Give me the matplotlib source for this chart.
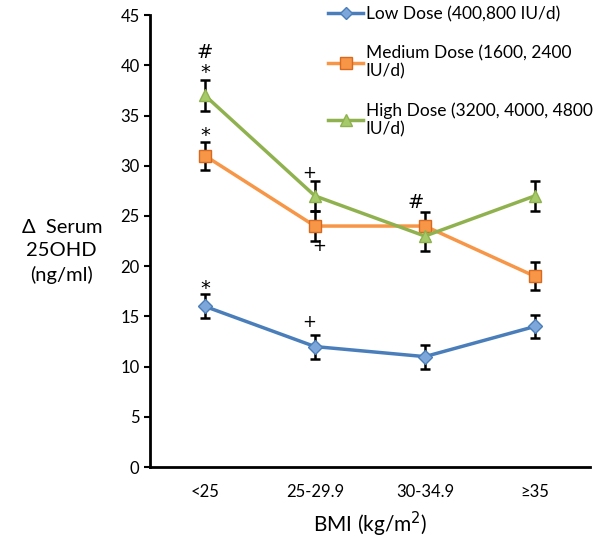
import numpy as np
import matplotlib
matplotlib.use("Agg")
import matplotlib.pyplot as plt
from matplotlib.lines import Line2D

plt.rcParams['font.family'] = ['Lato', 'DejaVu Sans']

categories = ['<25', '25-29.9', '30-34.9', '\u226535']
low = [16, 12, 11, 14]
low_err = [1.2, 1.2, 1.2, 1.15]
medium = [31, 24, 24, 19]
medium_err = [1.4, 1.5, 1.4, 1.4]
high = [37, 27, 23, 27]
high_err = [1.5, 1.5, 1.5, 1.5]
labels = ['Low Dose (400,800 IU/d)', 'Medium Dose (1600, 2400\nIU/d)',
          'High Dose (3200, 4000, 4800\nIU/d)']

# significance marks: (x position, y value, symbol)
notes = [(0, 41.3, '#'), (0, 39.3, '*'), (0, 33.0, '*'), (0, 17.8, '*'),
         (0.95, 29.3, '+'), (1.04, 22.0, '+'), (1.92, 26.3, '#'), (0.95, 14.4, '+')]

fig = plt.figure(figsize=(6, 5.4), dpi=100)
ax = fig.add_axes([0.25, 0.135, 0.733, 0.837])
x = np.arange(len(categories))

styles = [
    (low, low_err, '#4A7EBB', 'D', 7, '#7DA7DA', '#4A7EBB'),
    (medium, medium_err, '#F79646', 's', 9, '#F79646', '#D9691F'),
    (high, high_err, '#8FB24E', '^', 9, '#A6C96A', '#8FB24E'),
]
handles = []
for (vals, err, col, mk, ms, fc, ec), lab in zip(styles, labels):
    ax.errorbar(x, vals, yerr=err, color=col, lw=2.5, marker=mk, ms=ms,
                mfc=fc, mec=ec, ecolor='black', elinewidth=1.8, capsize=3.5,
                capthick=1.8, zorder=3)
    handles.append(Line2D([], [], color=col, lw=2.5, marker=mk, ms=ms - 1,
                          mfc=fc, mec=ec, label=lab))

for xi, yi, t in notes:
    fs = 12 if t == '+' else 14
    ax.text(xi, yi, t, ha='center', va='center', fontsize=fs, family='DejaVu Sans')

ax.set_xlim(-0.5, 3.5)
ax.set_ylim(0, 45)
ax.set_yticks(range(0, 50, 5))
ax.set_xticks(x)
ax.set_xticklabels(categories)
ax.tick_params(axis='x', length=0, pad=12, labelsize=12)
ax.tick_params(axis='y', length=4, width=1.5, labelsize=12)
for s in ['top', 'right']:
    ax.spines[s].set_visible(False)
for s in ['left', 'bottom']:
    ax.spines[s].set_linewidth(2)

ax.set_xlabel('BMI (kg/m$^2$)', fontsize=15, labelpad=7)
fig.text(0.103, 0.535, '\u0394  Serum\n25OHD\n(ng/ml)', ha='center', va='center',
         fontsize=14.5, linespacing=1.45)

ax.legend(handles=handles, loc='upper left', bbox_to_anchor=(0.39, 1.035), frameon=False,
          fontsize=12.5, handlelength=2.0, handletextpad=0.15, labelspacing=1.3,
          borderaxespad=0)

fig.savefig('out.png', dpi=100)
